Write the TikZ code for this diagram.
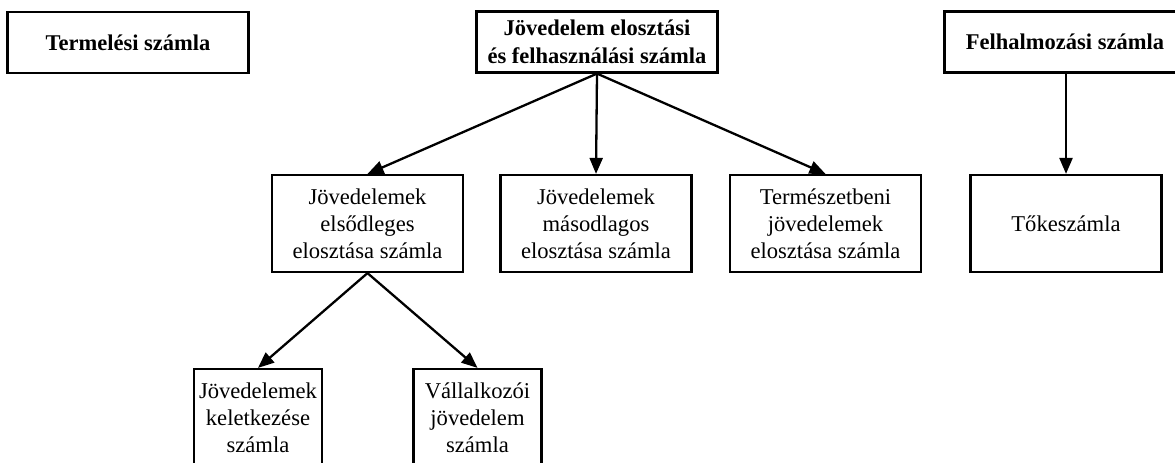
\documentclass[tikz,border=0pt]{standalone}
\usepackage{fontspec}
\setmainfont{Liberation Serif}
\usetikzlibrary{arrows.meta}
\begin{document}
\begin{tikzpicture}[x=1pt,y=-1pt,
  box/.style={draw, line width=2.2pt, inner sep=0pt, align=center, font=\fontsize{22.6}{27}\selectfont},
  topbox/.style={box, minimum width=241pt, minimum height=61pt, font=\fontsize{22.5}{28.5}\selectfont\bfseries},
  midbox/.style={box, minimum width=191pt, minimum height=97pt},
  lowbox/.style={box, minimum width=128pt, minimum height=97pt},
  arr/.style={-{Triangle[length=16pt,width=13pt]}, line width=2.3pt}]
\useasboundingbox (0,0) rectangle (1175,463);
\clip (0,0) rectangle (1175,463);
\node[topbox] (term) at (128,42.5) {Termelési számla};
\node[topbox] (jov) at (597,42) {Jövedelem elosztási\\és felhasználási számla};
\node[topbox] (felh) at (1065,42) {Felhalmozási számla};
\node[midbox] (prim) at (367.5,223.5) {Jövedelemek\\elsődleges\\elosztása számla};
\node[midbox] (sec) at (596,223.5) {Jövedelemek\\másodlagos\\elosztása számla};
\node[midbox] (nat) at (825.5,223.5) {Természetbeni\\jövedelemek\\elosztása számla};
\node[midbox] (toke) at (1066,223.5) {Tőkeszámla};
\node[lowbox] (kel) at (258,417.5) {Jövedelemek\\keletkezése\\számla};
\node[lowbox] (val) at (477.5,417.5) {Vállalkozói\\jövedelem\\számla};
\draw[arr] (jov.south) -- (prim.north);
\draw[arr] (jov.south) -- (sec.north);
\draw[arr] (jov.south) -- (nat.north);
\draw[arr] (felh.south -| toke.north) -- (toke.north);
\draw[arr] (prim.south) -- (kel.north);
\draw[arr] (prim.south) -- (val.north);
\end{tikzpicture}
\end{document}
